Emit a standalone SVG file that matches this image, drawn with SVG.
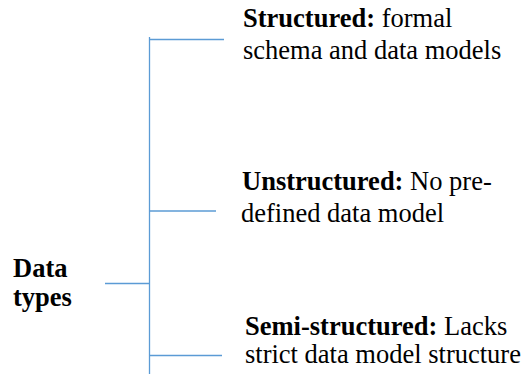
<svg xmlns="http://www.w3.org/2000/svg" width="522" height="374" viewBox="0 0 522 374">
<style>
.t{font-family:"Liberation Serif","Times New Roman",serif;font-size:26.5px;fill:#000}
.b{font-weight:bold}
.c{stroke:#5B9BD5;stroke-width:1.3;fill:none}
</style>
<rect width="522" height="374" fill="#fff"/>
<g id="connectors">
<line class="c" x1="149.5" y1="37" x2="149.5" y2="374"/>
<line class="c" x1="149.5" y1="39.5" x2="224" y2="39.5"/>
<line class="c" x1="149.5" y1="211" x2="216" y2="211"/>
<line class="c" x1="105" y1="283.5" x2="149.5" y2="283.5"/>
<line class="c" x1="149.5" y1="355.5" x2="222" y2="355.5"/>
</g>
<g id="root">
<text class="t b" x="13" y="277">Data</text>
<text class="t b" x="13" y="306">types</text>
</g>
<g id="structured">
<text class="t" x="243" y="27"><tspan class="b">Structured:</tspan> formal</text>
<text class="t" x="243" y="59">schema and data models</text>
</g>
<g id="unstructured">
<text class="t" x="242" y="190"><tspan class="b">Unstructured:</tspan> No pre-</text>
<text class="t" x="241" y="222">defined data model</text>
</g>
<g id="semistructured">
<text class="t" x="245" y="335"><tspan class="b">Semi-structured:</tspan> Lacks</text>
<text class="t" x="245" y="363">strict data model structure</text>
</g>
</svg>
